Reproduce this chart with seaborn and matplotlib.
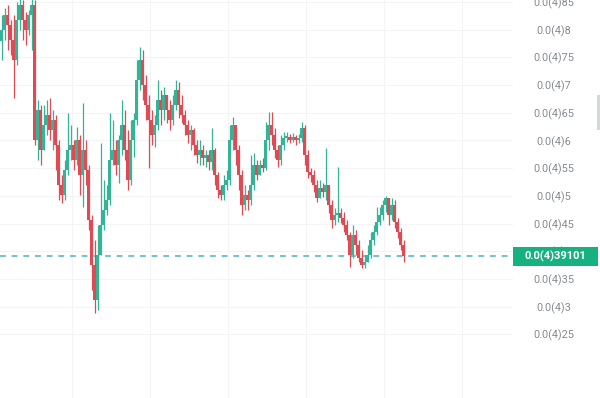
import numpy as np
import matplotlib
matplotlib.use("Agg")
import matplotlib.pyplot as plt
import matplotlib.transforms as mtransforms
from matplotlib.patches import Rectangle
import seaborn as sns

# prices in units of 1e-6 (0.0(4)85 == 0.000085)
first_open = 78.0
close_e6 = [80.0, 82.7, 80.8, 78.1, 74.5, 81.8, 84.5, 81.8, 80.0, 82.7,
            84.5, 60.1, 65.5, 58.3, 62.8, 64.6, 61.9, 63.7, 59.2, 52.0,
            50.2, 54.7, 58.3, 59.2, 56.5, 60.1, 53.8, 58.3, 54.7, 45.7,
            37.5, 31.2, 39.3, 44.8, 47.5, 49.3, 56.5, 58.3, 55.6, 60.1,
            62.8, 58.3, 52.9, 60.1, 63.7, 70.9, 74.5, 70.0, 66.4, 63.7,
            61.0, 62.8, 67.3, 65.5, 68.2, 65.5, 63.7, 66.4, 69.1, 66.4,
            64.6, 62.8, 61.0, 61.9, 59.2, 57.4, 58.3, 56.8, 57.4, 56.1,
            58.3, 53.8, 51.1, 50.2, 52.0, 52.9, 60.1, 62.8, 58.3, 53.8,
            48.4, 50.2, 49.3, 52.0, 55.6, 53.8, 55.6, 55.0, 60.1, 62.8,
            61.0, 58.3, 56.5, 59.2, 60.5, 60.6, 60.1, 60.6, 60.1, 60.5,
            62.3, 57.4, 54.3, 53.8, 52.0, 49.6, 51.4, 50.7, 52.0, 48.4,
            45.7, 46.6, 46.9, 46.0, 44.8, 43.0, 39.3, 43.0, 41.1, 38.8,
            37.5, 38.1, 39.3, 42.0, 43.5, 45.3, 46.6, 48.4, 49.6, 46.6,
            48.4, 45.3, 43.5, 41.1, 39.101]
high_e6 = [82.7, 83.9, 84.5, 81.8, 82.7, 85.0, 86.3, 85.4, 83.2, 83.6,
           86.3, 85.4, 67.3, 66.4, 66.4, 67.3, 67.7, 65.5, 64.6, 60.1,
           53.8, 56.5, 65.0, 62.8, 60.1, 62.4, 61.0, 66.8, 60.1, 55.6,
           46.6, 42.0, 44.8, 59.5, 52.9, 52.0, 65.0, 63.7, 60.1, 61.0,
           67.3, 65.5, 61.9, 63.7, 65.0, 74.5, 76.9, 76.3, 71.8, 68.2,
           65.5, 64.6, 70.9, 69.1, 69.7, 68.2, 67.3, 68.2, 70.9, 70.6,
           68.2, 65.5, 63.7, 62.8, 62.3, 60.1, 60.1, 59.2, 58.3, 58.3,
           62.3, 58.6, 54.3, 52.0, 53.8, 54.7, 62.8, 64.2, 61.9, 59.2,
           54.7, 52.0, 51.1, 57.4, 57.7, 56.5, 56.5, 56.8, 63.3, 65.1,
           65.1, 62.3, 59.2, 61.0, 61.5, 61.5, 61.2, 61.4, 61.0, 61.2,
           63.3, 62.8, 58.3, 55.0, 54.7, 52.9, 52.9, 52.3, 58.6, 52.0,
           49.3, 47.8, 55.2, 47.8, 47.1, 45.7, 43.5, 44.8, 43.9, 42.0,
           40.2, 39.3, 41.1, 43.5, 44.8, 48.0, 48.0, 49.3, 50.0, 49.6,
           49.6, 49.3, 46.0, 44.2, 42.0]
low_e6 = [74.5, 78.1, 76.3, 75.4, 67.7, 73.6, 80.0, 78.1, 77.2, 79.0,
          76.3, 59.2, 56.5, 55.6, 60.1, 61.0, 60.1, 58.3, 54.7, 49.3,
          48.7, 49.3, 53.8, 56.5, 54.7, 55.6, 50.2, 48.0, 52.0, 43.9,
          33.0, 28.9, 29.4, 42.0, 43.9, 46.6, 48.4, 55.6, 53.8, 52.3,
          57.4, 56.5, 51.1, 52.0, 57.0, 62.8, 69.1, 67.3, 63.7, 55.0,
          59.2, 58.8, 61.9, 62.8, 63.7, 63.2, 61.9, 62.8, 65.5, 64.1,
          63.2, 61.0, 59.5, 58.3, 57.4, 56.0, 55.6, 55.6, 55.2, 54.7,
          54.7, 52.0, 49.6, 49.3, 49.3, 51.1, 52.0, 58.3, 55.6, 51.1,
          46.6, 47.5, 47.5, 48.4, 51.1, 52.9, 53.8, 54.3, 54.7, 58.3,
          59.2, 56.8, 55.2, 55.6, 58.3, 59.7, 59.5, 59.7, 59.2, 59.5,
          59.7, 55.6, 53.2, 52.5, 50.7, 48.9, 49.6, 49.8, 49.3, 46.9,
          44.2, 44.8, 45.3, 45.1, 43.5, 42.0, 37.2, 38.8, 39.3, 38.1,
          37.0, 37.0, 38.1, 38.8, 41.1, 43.0, 44.8, 45.7, 47.1, 44.8,
          45.7, 44.2, 42.4, 40.2, 38.1]

price_ticks = [25, 30, 35, 40, 45, 50, 55, 60, 65, 70, 75, 80, 85]
last_price = 39.101

UP = "#35b397"
DOWN = "#e04a55"


def fmt_price(v):
    # 0.000085 -> 0.0(4)85
    return "0.0(4)" + ("%g" % (v / 10)).replace(".", "")


sns.set_theme(style="white")
plt.rcParams["font.family"] = ["Roboto", "DejaVu Sans"]

fig = plt.figure(figsize=(6, 3.98), dpi=100)
ax = fig.add_axes([0, 0, 513 / 600, 1])

close = np.array(close_e6)
opens = np.concatenate([[first_open], close[:-1]])
high = np.maximum(np.array(high_e6), np.maximum(opens, close))
low = np.minimum(np.array(low_e6), np.minimum(opens, close))
idx = np.arange(len(close))
up = close >= opens
colors = np.where(up, UP, DOWN)

ax.vlines(idx, low, high, colors=colors, linewidth=0.9, zorder=3)
body_h = np.maximum(np.abs(close - opens), 0.25)
ax.bar(idx, body_h, bottom=np.minimum(opens, close), width=0.7,
       color=colors, linewidth=0, zorder=3)

ax.axhline(last_price, color="#5cb8c4", linewidth=1.2,
           dashes=(3.5, 3.5), zorder=2)

ax.set_xlim(-0.5, 170.5)
ax.set_ylim(13.52, 85.36)
ax.set_xticks([23.5, 49.5, 75.5, 101.5, 127.5, 153.5])
ax.set_xticklabels([])
ax.set_yticks(price_ticks)
ax.set_yticklabels([fmt_price(t) for t in price_ticks])
ax.yaxis.tick_right()
ax.tick_params(axis="y", length=0, pad=29.5, labelsize=7.8,
               labelcolor="#858a92")
ax.tick_params(axis="x", length=0)
for lab in ax.get_yticklabels():
    lab.set_horizontalalignment("center")
ax.grid(True, color="#f3f4f5", linewidth=0.8)
ax.set_axisbelow(True)
for s in ax.spines.values():
    s.set_visible(False)

# current price tag on the scale
trans = mtransforms.blended_transform_factory(ax.transAxes, ax.transData)
box_w = 85 / 513
ax.add_patch(Rectangle((1.0, last_price - 1.72), box_w, 3.44,
                       transform=trans, facecolor="#15b27f",
                       edgecolor="none", clip_on=False, zorder=5))
ax.text(1.0 + box_w / 2, last_price, fmt_price(last_price), transform=trans,
        ha="center", va="center", color="white", fontsize=8,
        fontweight="bold", clip_on=False, zorder=6)

fig.patches.append(Rectangle((597 / 600, 1 - 130 / 398), 3 / 600, 35 / 398,
                             transform=fig.transFigure, facecolor="#d5d7da",
                             edgecolor="none"))

fig.savefig("out.png", dpi=100)
